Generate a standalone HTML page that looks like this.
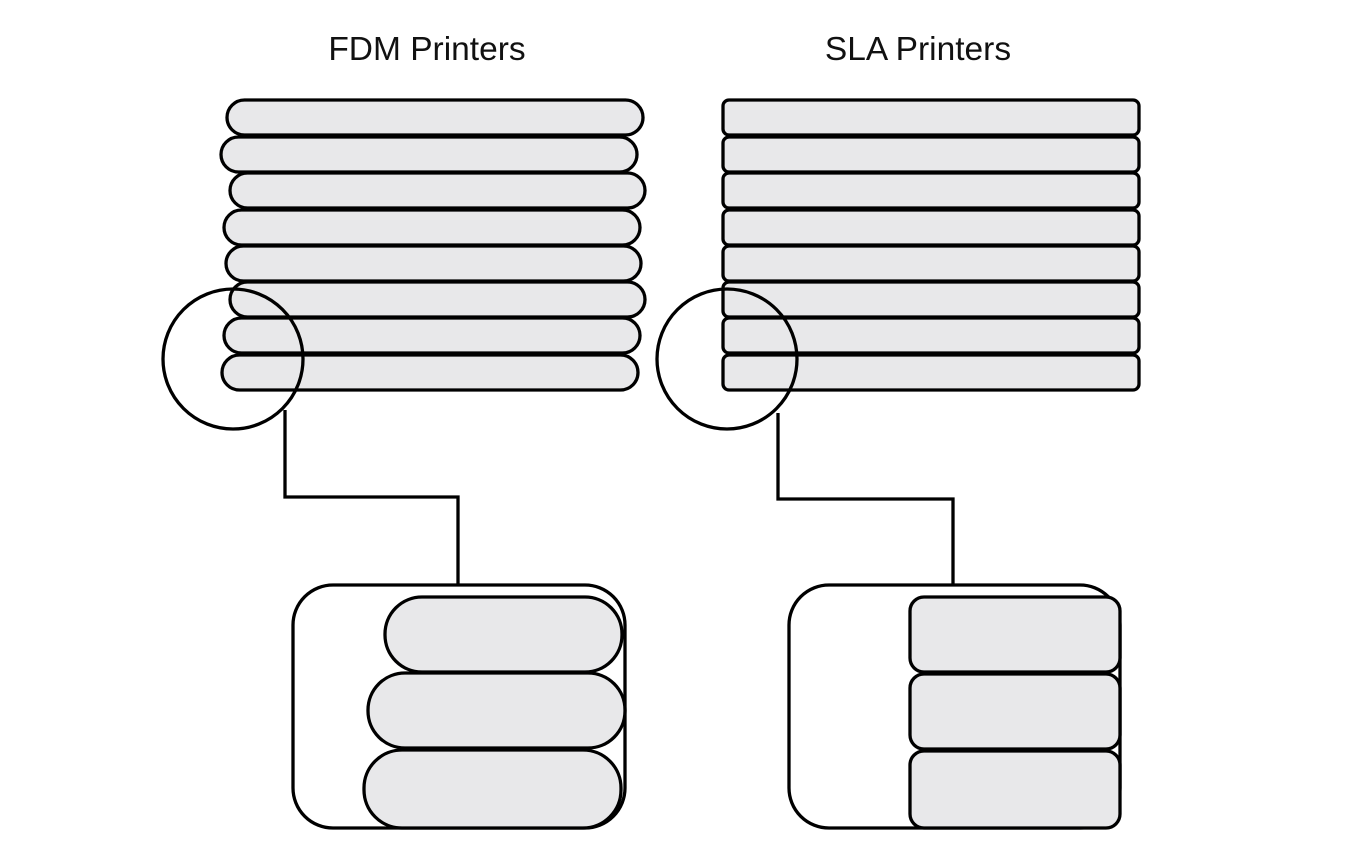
<!DOCTYPE html>
<html><head><style>body{margin:0;background:#fff}svg{display:block}</style></head><body>
<svg width="1354" height="868" viewBox="0 0 1354 868" xmlns="http://www.w3.org/2000/svg">
<g font-family="Liberation Sans, sans-serif" font-size="33.5" text-anchor="middle" fill="#111">
<text x="427" y="60">FDM Printers</text>
<text x="918" y="60">SLA Printers</text>
</g>
<g fill="#e8e8ea" stroke="#000" stroke-width="3.3">
<rect x="227" y="100" width="416" height="35" rx="17.5"/>
<rect x="221" y="137" width="416" height="35" rx="17.5"/>
<rect x="230" y="173" width="415" height="35" rx="17.5"/>
<rect x="224" y="210" width="416" height="35" rx="17.5"/>
<rect x="226" y="246" width="415" height="35" rx="17.5"/>
<rect x="230" y="282" width="415" height="35" rx="17.5"/>
<rect x="224" y="318" width="416" height="35" rx="17.5"/>
<rect x="222" y="355" width="416" height="35" rx="17.5"/>

<rect x="723" y="100" width="416" height="35" rx="6"/>
<rect x="723" y="137" width="416" height="35" rx="6"/>
<rect x="723" y="173" width="416" height="35" rx="6"/>
<rect x="723" y="210" width="416" height="35" rx="6"/>
<rect x="723" y="246" width="416" height="35" rx="6"/>
<rect x="723" y="282" width="416" height="35" rx="6"/>
<rect x="723" y="318" width="416" height="35" rx="6"/>
<rect x="723" y="355" width="416" height="35" rx="6"/>
</g>
<g fill="none" stroke="#000" stroke-width="3.3">
<circle cx="233" cy="359" r="70"/>
<circle cx="727" cy="359" r="70"/>
<polyline points="285,410 285,497 458,497 458,586"/>
<polyline points="778,413 778,499 953,499 953,586"/>
<rect x="293" y="585" width="332" height="243" rx="40" fill="#fff"/>
<rect x="789" y="585" width="331" height="243" rx="40" fill="#fff"/>
</g>
<g fill="#e8e8ea" stroke="#000" stroke-width="3.3">
<rect x="385" y="597" width="237" height="75" rx="37"/>
<rect x="368" y="673" width="257" height="75" rx="37"/>
<rect x="364" y="750" width="257" height="78" rx="38"/>
<rect x="910" y="597" width="210" height="75" rx="14"/>
<rect x="910" y="674" width="210" height="75" rx="14"/>
<rect x="910" y="751" width="210" height="77" rx="14"/>
</g>
</svg>
</body></html>
